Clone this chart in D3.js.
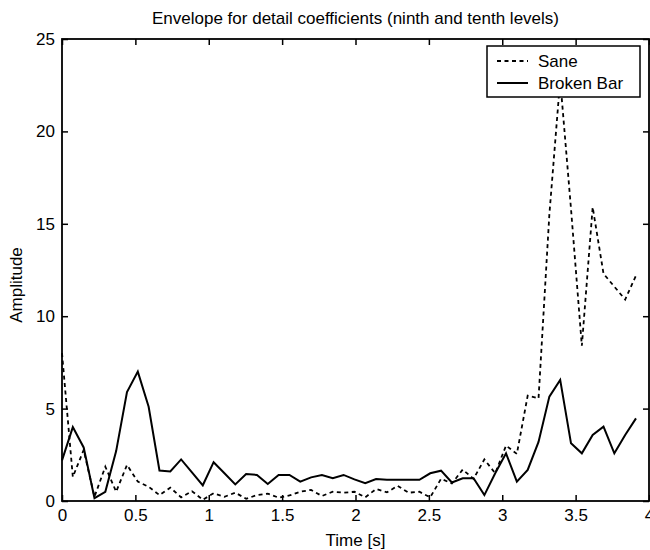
<!DOCTYPE html>
<html>
<head>
<meta charset="utf-8">
<script src="https://cdn.jsdelivr.net/npm/d3@7/dist/d3.min.js"></script>
<style>
  html, body { margin: 0; padding: 0; background: #fff; }
  svg { display: block; }
  text { font-family: "Liberation Sans", Arial, sans-serif; fill: #000; }
</style>
</head>
<body>
<svg id="chart" width="650" height="550"></svg>
<script>
// Envelope amplitudes sampled every sampleStep seconds
const sampleStep = 0.0738;

const saneValues = [
  8.0, 1.3, 2.76, 0.23, 1.86, 0.5, 1.95, 1.05, 0.77, 0.32,
  0.72, 0.2, 0.53, 0.07, 0.42, 0.23, 0.45, 0.12, 0.32, 0.4,
  0.18, 0.3, 0.5, 0.6, 0.27, 0.5, 0.45, 0.5, 0.2, 0.65,
  0.47, 0.82, 0.45, 0.5, 0.2, 1.2, 0.95, 1.7, 1.2, 2.25,
  1.5, 3.0, 2.55, 5.7, 5.55, 15.5, 22.8, 15.8, 8.4, 15.9,
  12.3, 11.6, 10.9, 12.2
];

const brokenBarValues = [
  2.2, 4.0, 2.9, 0.15, 0.5, 2.7, 5.9, 7.0, 5.1, 1.65,
  1.6, 2.25, 1.55, 0.85, 2.1, 1.5, 0.9, 1.46, 1.41, 0.92,
  1.41, 1.41, 1.05, 1.28, 1.41, 1.23, 1.41, 1.17, 0.96, 1.19,
  1.15, 1.15, 1.15, 1.15, 1.5, 1.64, 1.0, 1.23, 1.23, 0.32,
  1.5, 2.58, 1.05, 1.68, 3.2, 5.65, 6.55, 3.12, 2.58, 3.57,
  4.02, 2.58, 3.57, 4.47
];

const xTickValues = [0, 0.5, 1, 1.5, 2, 2.5, 3, 3.5, 4];
const xTickLabels = ["0", "0.5", "1", "1.5", "2", "2.5", "3", "3.5", "4"];
const yTickValues = [0, 5, 10, 15, 20, 25];
const yTickLabels = ["0", "5", "10", "15", "20", "25"];

const seriesNames = ["Sane", "Broken Bar"];

const titleText = "Envelope for detail coefficients (ninth and tenth levels)";
const xLabelText = "Time [s]";
const yLabelText = "Amplitude";

// Layout
const plot = { left: 62, right: 649, top: 39, bottom: 501 };
const fontSize = 17;

const svg = d3.select("#chart");

const x = d3.scaleLinear().domain([0, 4]).range([plot.left, plot.right]);
const y = d3.scaleLinear().domain([0, 25]).range([plot.bottom, plot.top]);

const toPoints = vals => vals.map((v, i) => [i * sampleStep, v]);
const line = d3.line().x(d => x(d[0])).y(d => y(d[1]));

// Data lines
svg.append("path")
  .datum(toPoints(saneValues))
  .attr("d", line)
  .attr("fill", "none")
  .attr("stroke", "#000")
  .attr("stroke-width", 1.8)
  .attr("stroke-dasharray", "4,3.5");

svg.append("path")
  .datum(toPoints(brokenBarValues))
  .attr("d", line)
  .attr("fill", "none")
  .attr("stroke", "#000")
  .attr("stroke-width", 2)
  .attr("stroke-linejoin", "miter");

// Axes with inward ticks on all four sides
const xFmt = (d, i) => xTickLabels[i];
const yFmt = (d, i) => yTickLabels[i];

function styleAxis(g) {
  g.select(".domain").remove();
  g.selectAll(".tick line").attr("stroke", "#000").attr("stroke-width", 1.5);
  g.selectAll(".tick text")
    .attr("font-size", fontSize)
    .attr("font-family", "'Liberation Sans', Arial, sans-serif")
    .attr("fill", "#000");
}

svg.append("g")
  .attr("transform", `translate(0,${plot.bottom})`)
  .call(d3.axisBottom(x).tickValues(xTickValues).tickFormat(xFmt)
    .tickSizeInner(-6).tickSizeOuter(0).tickPadding(8))
  .call(styleAxis);

svg.append("g")
  .attr("transform", `translate(0,${plot.top})`)
  .call(d3.axisTop(x).tickValues(xTickValues).tickFormat("")
    .tickSizeInner(-6).tickSizeOuter(0))
  .call(styleAxis);

svg.append("g")
  .attr("transform", `translate(${plot.left},0)`)
  .call(d3.axisLeft(y).tickValues(yTickValues).tickFormat(yFmt)
    .tickSizeInner(-6).tickSizeOuter(0).tickPadding(7))
  .call(styleAxis);

svg.append("g")
  .attr("transform", `translate(${plot.right},0)`)
  .call(d3.axisRight(y).tickValues(yTickValues).tickFormat("")
    .tickSizeInner(-6).tickSizeOuter(0))
  .call(styleAxis);

// Frame
svg.append("rect")
  .attr("x", plot.left)
  .attr("y", plot.top)
  .attr("width", plot.right - plot.left)
  .attr("height", plot.bottom - plot.top)
  .attr("fill", "none")
  .attr("stroke", "#000")
  .attr("stroke-width", 1.8);

// Title and axis labels
svg.append("text")
  .attr("x", (plot.left + plot.right) / 2)
  .attr("y", 24)
  .attr("text-anchor", "middle")
  .attr("font-size", fontSize)
  .text(titleText);

svg.append("text")
  .attr("x", (plot.left + plot.right) / 2)
  .attr("y", 546)
  .attr("text-anchor", "middle")
  .attr("font-size", fontSize)
  .text(xLabelText);

svg.append("text")
  .attr("transform", `translate(22,${(plot.top + plot.bottom) / 2 + 15}) rotate(-90)`)
  .attr("text-anchor", "middle")
  .attr("font-size", fontSize)
  .text(yLabelText);

// Legend
const legend = svg.append("g").attr("transform", "translate(487,46)");
legend.append("rect")
  .attr("width", 153)
  .attr("height", 51)
  .attr("fill", "#fff")
  .attr("stroke", "#000")
  .attr("stroke-width", 1.5);

const legendStyles = [
  { dash: "4,3.5", width: 1.8 },
  { dash: null, width: 2 }
];

seriesNames.forEach((name, i) => {
  const yy = 15 + i * 22;
  legend.append("line")
    .attr("x1", 10).attr("x2", 41)
    .attr("y1", yy).attr("y2", yy)
    .attr("stroke", "#000")
    .attr("stroke-width", legendStyles[i].width)
    .attr("stroke-dasharray", legendStyles[i].dash);
  legend.append("text")
    .attr("x", 51)
    .attr("y", yy + 6)
    .attr("font-size", fontSize)
    .text(name);
});
</script>
</body>
</html>
